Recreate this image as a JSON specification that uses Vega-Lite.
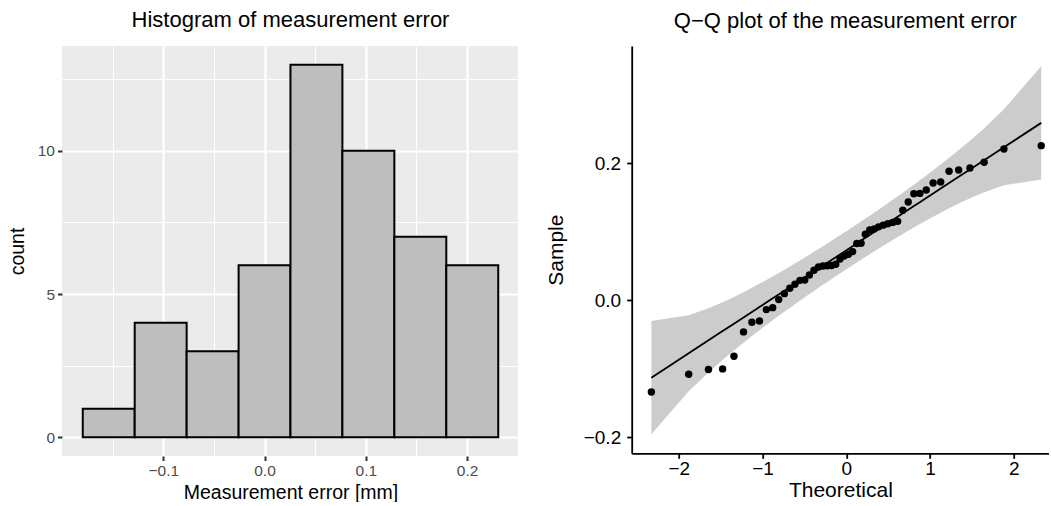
{
  "$schema": "https://vega.github.io/schema/vega-lite/v6.json",
  "padding": {"left": 7, "top": 9, "right": 0, "bottom": 0},
  "spacing": 25.7,
  "config": {"font": "Liberation Sans", "view": {"stroke": null}},
  "datasets": {
    "hist": [
      {"bin_start": -0.1795, "bin_end": -0.1282, "count": 1},
      {"bin_start": -0.1282, "bin_end": -0.0769, "count": 4},
      {"bin_start": -0.0769, "bin_end": -0.0256, "count": 3},
      {"bin_start": -0.0256, "bin_end": 0.0256, "count": 6},
      {"bin_start": 0.0256, "bin_end": 0.0769, "count": 13},
      {"bin_start": 0.0769, "bin_end": 0.1282, "count": 10},
      {"bin_start": 0.1282, "bin_end": 0.1795, "count": 7},
      {"bin_start": 0.1795, "bin_end": 0.2308, "count": 6}
    ],
    "qq": [
      {"theoretical": -2.3263, "sample": -0.1337, "fit": -0.11291, "lower": -0.19549, "upper": -0.03033},
      {"theoretical": -1.8808, "sample": -0.1079, "fit": -0.07733, "lower": -0.13278, "upper": -0.02188},
      {"theoretical": -1.6449, "sample": -0.1011, "fit": -0.05850, "lower": -0.10524, "upper": -0.01176},
      {"theoretical": -1.4758, "sample": -0.1001, "fit": -0.04499, "lower": -0.08702, "upper": -0.00296},
      {"theoretical": -1.3408, "sample": -0.0817, "fit": -0.03421, "lower": -0.07319, "upper": 0.00477},
      {"theoretical": -1.2265, "sample": -0.0462, "fit": -0.02509, "lower": -0.06190, "upper": 0.01172},
      {"theoretical": -1.1264, "sample": -0.0321, "fit": -0.01709, "lower": -0.05225, "upper": 0.01807},
      {"theoretical": -1.0364, "sample": -0.0302, "fit": -0.00991, "lower": -0.04378, "upper": 0.02396},
      {"theoretical": -0.9542, "sample": -0.0137, "fit": -0.00334, "lower": -0.03618, "upper": 0.02950},
      {"theoretical": -0.8779, "sample": -0.0108, "fit": 0.00275, "lower": -0.02923, "upper": 0.03473},
      {"theoretical": -0.8064, "sample": 0.0009, "fit": 0.00846, "lower": -0.02280, "upper": 0.03972},
      {"theoretical": -0.7388, "sample": 0.0096, "fit": 0.01386, "lower": -0.01680, "upper": 0.04452},
      {"theoretical": -0.6745, "sample": 0.0175, "fit": 0.01899, "lower": -0.01115, "upper": 0.04913},
      {"theoretical": -0.6128, "sample": 0.0233, "fit": 0.02392, "lower": -0.00578, "upper": 0.05362},
      {"theoretical": -0.5534, "sample": 0.0290, "fit": 0.02866, "lower": -0.00066, "upper": 0.05798},
      {"theoretical": -0.4959, "sample": 0.0294, "fit": 0.03325, "lower": 0.00425, "upper": 0.06225},
      {"theoretical": -0.4399, "sample": 0.0369, "fit": 0.03772, "lower": 0.00900, "upper": 0.06644},
      {"theoretical": -0.3853, "sample": 0.0437, "fit": 0.04208, "lower": 0.01360, "upper": 0.07056},
      {"theoretical": -0.3319, "sample": 0.0485, "fit": 0.04635, "lower": 0.01807, "upper": 0.07463},
      {"theoretical": -0.2793, "sample": 0.0500, "fit": 0.05055, "lower": 0.02243, "upper": 0.07867},
      {"theoretical": -0.2275, "sample": 0.0503, "fit": 0.05468, "lower": 0.02669, "upper": 0.08267},
      {"theoretical": -0.1764, "sample": 0.0506, "fit": 0.05876, "lower": 0.03088, "upper": 0.08664},
      {"theoretical": -0.1257, "sample": 0.0525, "fit": 0.06281, "lower": 0.03501, "upper": 0.09061},
      {"theoretical": -0.0753, "sample": 0.0602, "fit": 0.06684, "lower": 0.03909, "upper": 0.09459},
      {"theoretical": -0.0251, "sample": 0.0646, "fit": 0.07085, "lower": 0.04312, "upper": 0.09858},
      {"theoretical": 0.0251, "sample": 0.0670, "fit": 0.07485, "lower": 0.04712, "upper": 0.10258},
      {"theoretical": 0.0753, "sample": 0.0709, "fit": 0.07886, "lower": 0.05111, "upper": 0.10661},
      {"theoretical": 0.1257, "sample": 0.0826, "fit": 0.08289, "lower": 0.05509, "upper": 0.11069},
      {"theoretical": 0.1764, "sample": 0.0830, "fit": 0.08694, "lower": 0.05906, "upper": 0.11482},
      {"theoretical": 0.2275, "sample": 0.0962, "fit": 0.09102, "lower": 0.06303, "upper": 0.11901},
      {"theoretical": 0.2793, "sample": 0.1025, "fit": 0.09515, "lower": 0.06703, "upper": 0.12327},
      {"theoretical": 0.3319, "sample": 0.1040, "fit": 0.09935, "lower": 0.07107, "upper": 0.12763},
      {"theoretical": 0.3853, "sample": 0.1070, "fit": 0.10362, "lower": 0.07514, "upper": 0.13210},
      {"theoretical": 0.4399, "sample": 0.1095, "fit": 0.10798, "lower": 0.07926, "upper": 0.13670},
      {"theoretical": 0.4959, "sample": 0.1115, "fit": 0.11245, "lower": 0.08345, "upper": 0.14145},
      {"theoretical": 0.5534, "sample": 0.1135, "fit": 0.11704, "lower": 0.08772, "upper": 0.14636},
      {"theoretical": 0.6128, "sample": 0.1150, "fit": 0.12178, "lower": 0.09208, "upper": 0.15148},
      {"theoretical": 0.6745, "sample": 0.1312, "fit": 0.12671, "lower": 0.09657, "upper": 0.15685},
      {"theoretical": 0.7388, "sample": 0.1433, "fit": 0.13184, "lower": 0.10118, "upper": 0.16250},
      {"theoretical": 0.8064, "sample": 0.1553, "fit": 0.13724, "lower": 0.10598, "upper": 0.16850},
      {"theoretical": 0.8779, "sample": 0.1558, "fit": 0.14295, "lower": 0.11097, "upper": 0.17493},
      {"theoretical": 0.9542, "sample": 0.1608, "fit": 0.14904, "lower": 0.11620, "upper": 0.18188},
      {"theoretical": 1.0364, "sample": 0.1710, "fit": 0.15561, "lower": 0.12174, "upper": 0.18948},
      {"theoretical": 1.1264, "sample": 0.1725, "fit": 0.16279, "lower": 0.12763, "upper": 0.19795},
      {"theoretical": 1.2265, "sample": 0.1880, "fit": 0.17079, "lower": 0.13398, "upper": 0.20760},
      {"theoretical": 1.3408, "sample": 0.1899, "fit": 0.17991, "lower": 0.14093, "upper": 0.21889},
      {"theoretical": 1.4758, "sample": 0.1929, "fit": 0.19069, "lower": 0.14866, "upper": 0.23272},
      {"theoretical": 1.6449, "sample": 0.2012, "fit": 0.20420, "lower": 0.15746, "upper": 0.25094},
      {"theoretical": 1.8808, "sample": 0.2206, "fit": 0.22303, "lower": 0.16758, "upper": 0.27848},
      {"theoretical": 2.3263, "sample": 0.2254, "fit": 0.25861, "lower": 0.17603, "upper": 0.34119}
    ]
  },
  "hconcat": [
    {
      "width": 457,
      "height": 410,
      "view": {"fill": "#EBEBEB", "stroke": null},
      "title": {"text": "Histogram of measurement error", "fontSize": 22, "fontWeight": "normal", "color": "black", "offset": 16, "dy": 2},
      "data": {"name": "hist"},
      "mark": {"type": "rect", "fill": "#BEBEBE", "stroke": "black", "strokeWidth": 2},
      "encoding": {
        "x": {
          "field": "bin_start", "type": "quantitative",
          "scale": {"domain": [-0.2, 0.2513], "nice": false, "zero": false},
          "axis": {
            "title": "Measurement error [mm]",
            "values": [-0.15, -0.1, -0.05, 0, 0.05, 0.1, 0.15, 0.2, 0.25],
            "labelExpr": "abs(datum.value*10 - round(datum.value*10)) < 0.001 ? format(datum.value, '.1f') : ''",
            "domain": false,
            "grid": true,
            "gridColor": "white",
            "gridWidth": {"condition": {"test": "abs(datum.value*10 - round(datum.value*10)) < 0.001", "value": 2.2}, "value": 1.1},
            "tickColor": {"condition": {"test": "abs(datum.value*10 - round(datum.value*10)) < 0.001", "value": "#333333"}, "value": "transparent"},
            "tickSize": 4.5, "tickWidth": 2,
            "labelColor": "#4D4D4D", "labelFontSize": 15.5, "labelPadding": 3,
            "titleFontSize": 19.5, "titleFontWeight": "normal", "titleColor": "black", "titlePadding": 4
          }
        },
        "x2": {"field": "bin_end"},
        "y": {
          "field": "count", "type": "quantitative",
          "scale": {"domain": [-0.65, 13.65], "nice": false, "zero": false},
          "axis": {
            "title": "count",
            "values": [0, 2.5, 5, 7.5, 10, 12.5],
            "labelExpr": "datum.value % 5 === 0 ? format(datum.value, 'd') : ''",
            "domain": false,
            "grid": true,
            "gridColor": "white",
            "gridWidth": {"condition": {"test": "datum.value % 5 === 0", "value": 2.2}, "value": 1.1},
            "tickColor": {"condition": {"test": "datum.value % 5 === 0", "value": "#333333"}, "value": "transparent"},
            "tickSize": 4.5, "tickWidth": 2,
            "labelColor": "#4D4D4D", "labelFontSize": 15.5, "labelPadding": 3,
            "titleFontSize": 19.5, "titleFontWeight": "normal", "titleColor": "black", "titlePadding": 10
          }
        },
        "y2": {"datum": 0}
      }
    },
    {
      "width": 417.3,
      "height": 407.3,
      "title": {"text": "Q−Q plot of the measurement error", "fontSize": 22, "fontWeight": "normal", "color": "black", "offset": 16, "dx": 5, "dy": 3},
      "data": {"name": "qq"},
      "encoding": {
        "x": {
          "field": "theoretical", "type": "quantitative",
          "scale": {"domain": [-2.561, 2.419], "nice": false, "zero": false},
          "axis": {
            "title": "Theoretical",
            "values": [-2, -1, 0, 1, 2], "format": "d",
            "grid": false,
            "domainColor": "black", "domainWidth": 1.8,
            "tickColor": "black", "tickWidth": 1.8, "tickSize": 5,
            "labelColor": "black", "labelFontSize": 19, "labelPadding": 1,
            "titleFontSize": 21, "titleFontWeight": "normal", "titleColor": "black", "titlePadding": 1
          }
        }
      },
      "layer": [
        {
          "mark": {"type": "area", "color": "#CCCCCC", "opacity": 1},
          "encoding": {
            "y": {
              "field": "lower", "type": "quantitative", "title": "Sample",
              "scale": {"domain": [-0.2232, 0.3707], "nice": false, "zero": false},
              "axis": {
                "values": [-0.2, 0, 0.2], "format": ".1f",
                "grid": false,
                "domainColor": "black", "domainWidth": 1.8,
                "tickColor": "black", "tickWidth": 1.8, "tickSize": 5,
                "labelColor": "black", "labelFontSize": 19, "labelPadding": 6,
                "titleFontSize": 21, "titleFontWeight": "normal", "titleColor": "black", "titlePadding": 17
              }
            },
            "y2": {"field": "upper"}
          }
        },
        {
          "mark": {"type": "line", "color": "black", "strokeWidth": 1.8},
          "encoding": {"y": {"field": "fit", "type": "quantitative", "title": "Sample"}}
        },
        {
          "mark": {"type": "point", "filled": true, "color": "black", "size": 55, "opacity": 1},
          "encoding": {"y": {"field": "sample", "type": "quantitative", "title": "Sample"}}
        }
      ]
    }
  ]
}
